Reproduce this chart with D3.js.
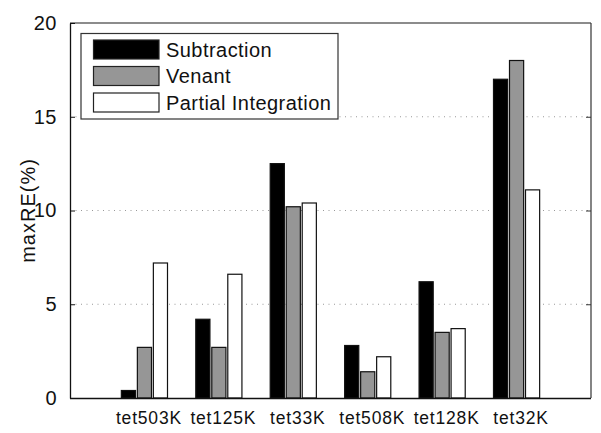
<!DOCTYPE html>
<html>
<head>
<meta charset="utf-8">
<script src="https://cdn.jsdelivr.net/npm/d3@7/dist/d3.min.js"></script>
<style>
  html, body { margin: 0; padding: 0; background: #fff; }
  svg text { font-family: "Liberation Sans", Arial, Helvetica, sans-serif; fill: #111; }
</style>
</head>
<body>
<svg id="chart" width="601" height="433"></svg>
<script>
const categories = ["tet503K", "tet125K", "tet33K", "tet508K", "tet128K", "tet32K"];
const seriesNames = ["Subtraction", "Venant", "Partial Integration"];
const subtraction = [0.4, 4.2, 12.5, 2.8, 6.2, 17.0];
const venant = [2.7, 2.7, 10.2, 1.4, 3.5, 18.0];
const partialIntegration = [7.2, 6.6, 10.4, 2.2, 3.7, 11.1];
const yTicks = [0, 5, 10, 15, 20];
const yLabel = "maxRE(%)";

const seriesValues = [subtraction, venant, partialIntegration];
const seriesFill = ["#000000", "#969696", "#ffffff"];

const svg = d3.select("#chart");
const pLeft = 70, pRight = 591, pTop = 23, pBottom = 398;
const x = d3.scaleLinear().domain([0, 7]).range([pLeft, pRight]);
const y = d3.scaleLinear().domain([0, 20]).range([pBottom, pTop]);

// grid lines
svg.append("g").selectAll("line")
  .data(yTicks.filter(d => d > 0 && d < 20))
  .join("line")
  .attr("x1", pLeft).attr("x2", pRight)
  .attr("y1", d => y(d)).attr("y2", d => y(d))
  .attr("stroke", "#999").attr("stroke-width", 1)
  .attr("stroke-dasharray", "1,4.5");

// bars
const offsets = [-0.215, 0, 0.215];
const bw = 0.19;
seriesValues.forEach((vals, si) => {
  svg.append("g").selectAll("rect")
    .data(vals)
    .join("rect")
    .attr("x", (d, i) => x(i + 1 + offsets[si] - bw / 2))
    .attr("width", x(bw) - x(0))
    .attr("y", d => y(d))
    .attr("height", d => y(0) - y(d))
    .attr("fill", seriesFill[si])
    .attr("stroke", "#111")
    .attr("stroke-width", 1.2);
});

// axes box
svg.append("line").attr("x1", pLeft).attr("x2", pRight).attr("y1", pTop).attr("y2", pTop)
  .attr("stroke", "#666").attr("stroke-width", 1.5);
svg.append("line").attr("x1", pRight).attr("x2", pRight).attr("y1", pTop).attr("y2", pBottom)
  .attr("stroke", "#333").attr("stroke-width", 1.2);

const yAxis = d3.axisLeft(y).tickValues(yTicks).tickSizeInner(-5).tickSizeOuter(0).tickPadding(13);
const gy = svg.append("g").attr("transform", `translate(${pLeft},0)`).call(yAxis);
gy.select(".domain").attr("stroke", "#111").attr("stroke-width", 1.3);
gy.selectAll(".tick line").attr("stroke", "#111");
gy.selectAll(".tick text").attr("font-size", 20).style("letter-spacing", "0.5px")
  .attr("font-family", "Liberation Sans, Arial, sans-serif").attr("fill", "#111");

const yAxisR = d3.axisRight(y).tickValues(yTicks.filter(d => d > 0 && d < 20)).tickSizeInner(-5).tickSizeOuter(0).tickFormat("");
const gyr = svg.append("g").attr("transform", `translate(${pRight},0)`).call(yAxisR);
gyr.select(".domain").remove();
gyr.selectAll(".tick line").attr("stroke", "#333");

const xAxis = d3.axisBottom(x).tickValues(d3.range(1, categories.length + 1))
  .tickFormat(d => categories[d - 1]).tickSize(0).tickPadding(14);
const gx = svg.append("g").attr("transform", `translate(0,${pBottom})`).call(xAxis);
gx.select(".domain").attr("stroke", "#111").attr("stroke-width", 1.3).attr("d", `M${pLeft},0.5H${pRight}`);
gx.selectAll(".tick text").attr("font-size", 17.5).style("letter-spacing", "0.8px")
  .attr("dx", 4)
  .attr("font-family", "Liberation Sans, Arial, sans-serif").attr("fill", "#111");

// y label
svg.append("text")
  .attr("transform", `translate(35,${(pTop + pBottom) / 2}) rotate(-90)`)
  .attr("text-anchor", "middle")
  .attr("font-size", 20).style("letter-spacing", "1px")
  .text(yLabel);

// legend
const lg = svg.append("g");
lg.append("rect").attr("x", 81).attr("y", 33.5).attr("width", 257).attr("height", 85.5)
  .attr("fill", "#fff").attr("stroke", "#333").attr("stroke-width", 1.2);
seriesNames.forEach((name, i) => {
  const yy = 40 + i * 26.5;
  lg.append("rect").attr("x", 93.5).attr("y", yy).attr("width", 65.5).attr("height", 19)
    .attr("fill", seriesFill[i]).attr("stroke", "#222").attr("stroke-width", 1.2);
  lg.append("text").attr("x", 166).attr("y", yy + 16.5)
    .attr("font-size", 20).style("letter-spacing", "0.45px").text(name);
});
</script>
</body>
</html>
